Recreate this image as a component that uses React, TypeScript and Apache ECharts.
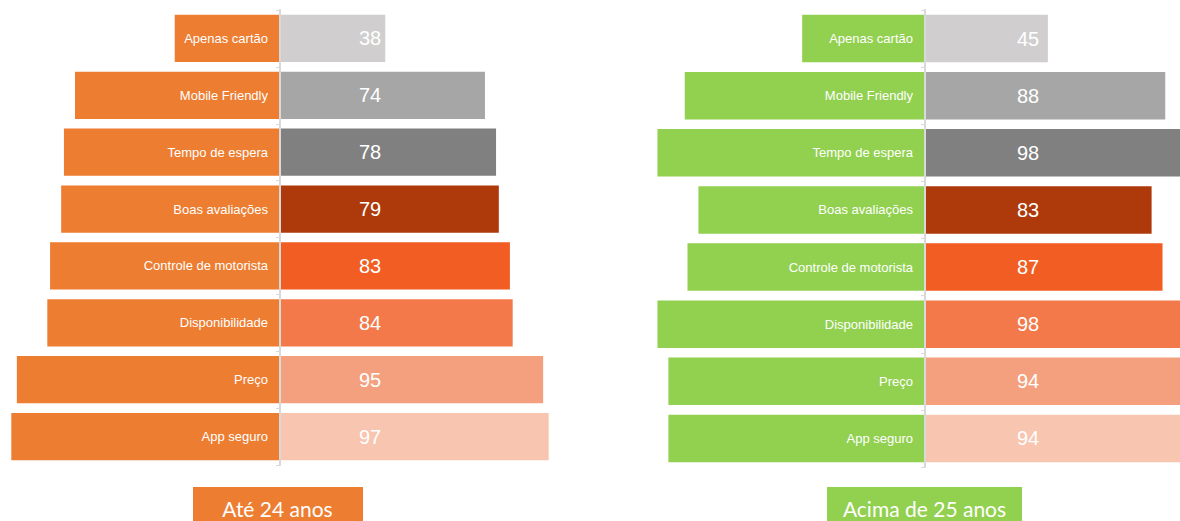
import React, { useEffect, useRef } from "react";
import * as echarts from "echarts";

const categories = [
  "Apenas cartão",
  "Mobile Friendly",
  "Tempo de espera",
  "Boas avaliações",
  "Controle de motorista",
  "Disponibilidade",
  "Preço",
  "App seguro",
];
const youngValues = [38, 74, 78, 79, 83, 84, 95, 97];
const olderValues = [45, 88, 98, 83, 87, 98, 94, 94];
const groupLabels = ["Até 24 anos", "Acima de 25 anos"];

const barColors = ["#D0CECE", "#A6A6A6", "#808080", "#AE3A0B", "#F15D22", "#F4794A", "#F4A07E", "#F8C5B0"];
const groupColors = ["#ED7D31", "#92D050"];

function panelSeries(idx: number, values: number[], valueOffset: number) {
  return [
    {
      type: "bar",
      xAxisIndex: idx,
      yAxisIndex: idx,
      barWidth: "83%",
      barGap: "-100%",
      clip: true,
      data: values.map((v) => -v),
      itemStyle: { color: groupColors[idx] },
      label: {
        show: true,
        position: "insideRight",
        distance: 12,
        color: "#ffffff",
        fontFamily: "Liberation Sans, Arial, sans-serif",
        fontSize: 13,
        formatter: (p: any) => categories[p.dataIndex],
      },
    },
    {
      type: "bar",
      xAxisIndex: idx,
      yAxisIndex: idx,
      barWidth: "83%",
      barGap: "-100%",
      clip: true,
      data: values.map((v, i) => ({ value: v, itemStyle: { color: barColors[i] } })),
      label: {
        show: true,
        position: [valueOffset, "50%"],
        align: "center",
        verticalAlign: "middle",
        color: "#ffffff",
        fontFamily: "Liberation Sans, Arial, sans-serif",
        fontSize: 20,
        formatter: (p: any) => String(p.value),
      },
    },
  ];
}

export default function App() {
  const ref = useRef<HTMLDivElement>(null);
  useEffect(() => {
    if (!ref.current) return;
    const chart = echarts.init(ref.current, null, { renderer: "svg" });
    const yAxisBase = (idx: number) => ({
      type: "category",
      gridIndex: idx,
      data: categories,
      inverse: true,
      z: 10,
      axisLine: { show: true, onZero: true, lineStyle: { color: "#D9D9D9", width: 2 } },
      axisTick: { show: true, length: 4, lineStyle: { color: "#D9D9D9", width: 1 } },
      axisLabel: { show: false },
      splitLine: { show: false },
    });
    chart.setOption({
      animation: false,
      backgroundColor: "#ffffff",
      grid: [
        { left: 3, top: 10, width: 554, height: 455 },
        { left: 652, top: 10, right: 0, height: 457 },
      ],
      xAxis: [
        { type: "value", gridIndex: 0, min: -100, max: 100, show: false },
        { type: "value", gridIndex: 1, min: -100, max: 93.4, show: false },
      ],
      yAxis: [yAxisBase(0), yAxisBase(1)],
      series: [...panelSeries(0, youngValues, 90), ...panelSeries(1, olderValues, 103)],
      graphic: [
        {
          type: "rect",
          shape: { x: 193, y: 487, width: 170, height: 40 },
          style: { fill: groupColors[0] },
        },
        {
          type: "text",
          x: 277.5,
          y: 508,
          style: {
            text: groupLabels[0],
            fill: "#ffffff",
            fontFamily: "Lato, Open Sans, sans-serif",
            fontSize: 21,
            align: "center",
            verticalAlign: "middle",
          },
        },
        {
          type: "rect",
          shape: { x: 827, y: 487, width: 195, height: 40 },
          style: { fill: groupColors[1] },
        },
        {
          type: "text",
          x: 924.5,
          y: 508,
          style: {
            text: groupLabels[1],
            fill: "#ffffff",
            fontFamily: "Lato, Open Sans, sans-serif",
            fontSize: 21,
            align: "center",
            verticalAlign: "middle",
          },
        },
      ],
    });
    return () => chart.dispose();
  }, []);
  return (
    <div
      ref={ref}
      style={{ position: "absolute", left: 0, top: 0, width: 1180, height: 521 }}
    />
  );
}
